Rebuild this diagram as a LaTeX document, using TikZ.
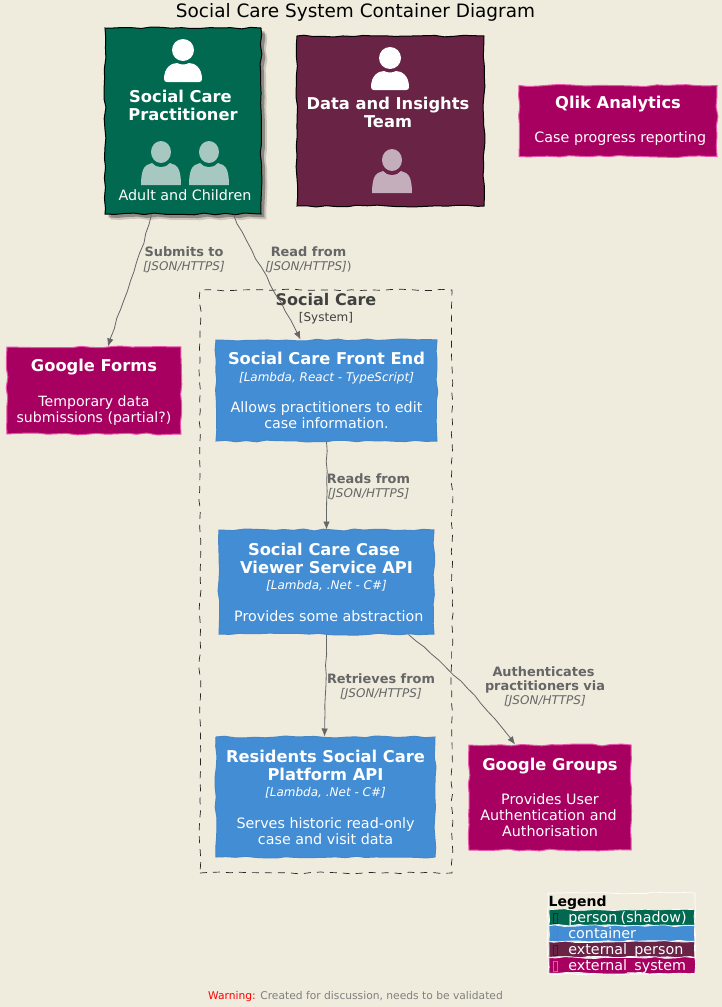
\documentclass[tikz,border=0pt]{standalone}
\usepackage{fontspec}
\setmainfont{DejaVu Sans}
\usetikzlibrary{decorations.pathmorphing,shadows,arrows.meta}

\definecolor{paper}{RGB}{239,235,221}
\definecolor{persongreen}{RGB}{0,105,80}
\definecolor{extperson}{RGB}{104,35,69}
\definecolor{extsystem}{RGB}{168,0,96}
\definecolor{extborder}{RGB}{232,84,170}
\definecolor{contblue}{RGB}{67,141,213}
\definecolor{contborder}{RGB}{70,135,200}
\definecolor{rellabel}{RGB}{102,102,102}
\definecolor{palegreen}{RGB}{166,200,192}
\definecolor{palemaroon}{RGB}{197,174,187}

\newcommand{\sz}[1]{\fontsize{#1}{#1}\selectfont}
\newcommand{\boxhead}{\sz{16.3}\bfseries}
\newcommand{\boxtext}{\sz{14.3}}
\newcommand{\relhead}{\sz{12.9}\bfseries}
\newcommand{\reltech}{\sz{12}\itshape}

\tikzset{
    exact/.style={execute at begin node={\baselineskip=0pt\lineskiplimit=-1000pt\relax}},
    wobble/.style={decorate, decoration={random steps, segment length=10pt, amplitude=1pt}},
    box/.style={wobble, draw, inner sep=0pt, align=center, text=white, exact},
    personbox/.style={box, fill=persongreen, draw=black, line width=1pt},
    teambox/.style={box, fill=extperson, draw=black, line width=1pt},
    extbox/.style={box, fill=extsystem, draw=extborder, line width=1pt},
    contbox/.style={box, fill=contblue, draw=contborder, line width=1pt},
    rel/.style={draw=rellabel, line width=0.8pt, -{Latex[length=8pt,width=6.5pt]},
        decorate, decoration={random steps, segment length=10pt, amplitude=0.7pt,
            post=lineto, post length=9pt}},
    rellab/.style={text=rellabel, align=center, inner sep=0pt, exact},
    boxlab/.style={text=white, align=center, inner sep=0pt, exact},
    legrow/.style={wobble, draw=white, line width=0.7pt, inner sep=0pt, text=white,
        anchor=west, minimum width=146pt, minimum height=15.6pt, text width=146pt, align=left,
        text height=12pt, text depth=3pt},
    tofu/.style={draw, line width=0.6pt, inner sep=0pt, minimum width=4pt, minimum height=10pt},
    bigperson/.pic={
        \path[pic actions] (0,0) circle[x radius=11, y radius=11];
        \path[pic actions] (-19,29) .. controls (-19,18) and (-12,13) .. (-6,13)
            .. controls (-2,15) and (2,15) .. (6,13)
            .. controls (12,13) and (19,18) .. (19,29)
            .. controls (19,31) and (18,32) .. (16,32) -- (-16,32)
            .. controls (-18,32) and (-19,31) .. (-19,29) -- cycle;
    },
    smallperson/.pic={
        \path[pic actions] (0,0) circle[x radius=10, y radius=11];
        \path[pic actions] (-20,33) .. controls (-20,22) and (-18,15) .. (-14,13) -- (-9,11)
            .. controls (-5,16.5) and (5,16.5) .. (9,11) -- (14,13)
            .. controls (18,15) and (20,22) .. (20,33) -- cycle;
    },
}

\begin{document}
\begin{tikzpicture}[x=1pt, y=-1pt]

% --- Page ---
\fill[paper] (0,0) rectangle (722,1007);
\useasboundingbox (0,0) rectangle (722,1007);

\node (title) at (355.5,12.5) {\sz{18.45}Social Care System Container Diagram};

% --- System boundary ---
\node[wobble, draw=black!85, dash pattern=on 7pt off 6pt, line width=0.7pt, minimum width=252pt,
    minimum height=583pt, inner sep=0pt] (boundary) at (326,581.5) {};
\node[text=black!75, align=center, inner sep=0pt, exact] (boundarylab) at (326,309)
    {{\sz{16}\bfseries Social Care}\\[16pt]{\sz{12}[System]}};

% --- People ---
\node[personbox, minimum width=156pt, minimum height=186pt,
    drop shadow={shadow xshift=5.5pt, shadow yshift=-5.5pt, fill=black, opacity=0.15},
    drop shadow={shadow xshift=3.5pt, shadow yshift=-3.5pt, fill=black, opacity=0.3}] (prac) at (183,121) {};
\pic[fill=white] at (183,50) {bigperson};
\node[boxlab, font=\boxhead] (praclab) at (183,105)
    {Social Care\kern5pt\\[18pt]Practitioner};
\pic[fill=palegreen] at (161,152) {smallperson};
\pic[fill=palegreen] at (209,152) {smallperson};
\node[boxlab] (praccap) at (185,195) {\boxtext Adult and Children};

\node[teambox, minimum width=187pt, minimum height=170pt] (team) at (390.5,121) {};
\pic[fill=white] at (390,58) {bigperson};
\node[boxlab, font=\boxhead] (teamlab) at (388,112.5)
    {Data and Insights\\[18pt]Team};
\pic[fill=palemaroon] at (392,160) {smallperson};

% --- External systems ---
\node[extbox, minimum width=198pt, minimum height=71pt] (qlik) at (618,121)
    {{\boxhead Qlik Analytics}\\[34pt]{\boxtext\ Case progress reporting}};
\node[extbox, minimum width=174pt, minimum height=87pt] (forms) at (94,390.5)
    {\rule{0pt}{15pt}{\boxhead Google Forms}\\[35pt]{\sz{14.1}Temporary data}\\[16pt]{\sz{14.1}submissions (partial?)}};
\node[extbox, minimum width=162pt, minimum height=105pt] (groups) at (550,797.5)
    {{\boxhead Google Groups}\\[34pt]{\boxtext Provides User}\\[16pt]{\boxtext Authentication and\kern3pt}\\[16pt]{\boxtext Authorisation}};

% --- Containers ---
\node[contbox, minimum width=221pt, minimum height=101pt] (frontend) at (326.5,390.5)
    {{\boxhead Social Care Front End}\\[16.5pt]{\reltech [Lambda, React - TypeScript]}\\[31pt]
     {\boxtext Allows practitioners to edit}\\[16pt]{\boxtext case information.}};
\node[contbox, minimum width=215pt, minimum height=104pt] (viewer) at (326.5,582)
    {{\boxhead Social Care Case\kern5pt}\\[18pt]{\boxhead Viewer Service API}\\[16pt]
     {\reltech [Lambda, .Net - C\#]}\\[32pt]{\boxtext\ Provides some abstraction}};
\node[contbox, minimum width=219pt, minimum height=120pt] (residents) at (325.5,797)
    {{\boxhead Residents Social Care}\\[18pt]{\boxhead Platform API}\\[16pt]
     {\reltech [Lambda, .Net - C\#]}\\[32pt]{\boxtext Serves historic read-only}\\[16pt]{\boxtext case and visit data}};

% --- Connectors ---
\draw[rel] ([xshift=47pt]prac.south west) .. controls +(-10,40) and +(12,-40) .. ([xshift=14pt]forms.north);
\draw[rel] ([xshift=129pt]prac.south west) .. controls +(14,32) and +(-20,-40) .. ([xshift=-26pt]frontend.north);
\draw[rel] (frontend.south) -- (viewer.north);
\draw[rel] (viewer.south) -- ([xshift=-1pt]residents.north);
\draw[rel] ([xshift=82pt]viewer.south) .. controls +(32,24) and +(-28,-38) .. ([xshift=-35pt]groups.north);

% --- Connector labels ---
\node[rellab] (submitslab) at (184,260)
    {{\relhead Submits to}\\[14pt]{\reltech [JSON/HTTPS]}};
\node[rellab] (readlab) at (308.5,260)
    {{\relhead Read from}\\[14pt]{\sz{12}{\itshape [JSON/HTTPS]})}};
\node[rellab] (readslab) at (368.5,487)
    {{\relhead Reads from}\\[14pt]{\reltech [JSON/HTTPS]}};
\node[rellab] (retrieveslab) at (381,687)
    {{\relhead Retrieves from}\\[14pt]{\reltech [JSON/HTTPS]}};
\node[rellab] (authlab) at (545,686.5)
    {{\relhead Authenticates\kern3pt}\\[14pt]{\relhead practitioners via}\\[14pt]{\reltech [JSON/HTTPS]}};

% --- Legend ---
\node[wobble, draw=white, line width=0.7pt, inner sep=0pt, minimum width=147pt, minimum height=81pt] (legend) at (621.5,933.5) {};
\node[anchor=west, inner sep=0pt, font=\sz{14}\bfseries] (legendlab) at (548.5,902.5) {Legend};
\node[legrow, fill=persongreen] (legperson) at (548.5,917.5) {\hspace*{19.5pt}\sz{14.3}person (shadow)};
\node[legrow, fill=contblue] (legcont) at (548.5,933.5) {\hspace*{19.5pt}\sz{14.3}container};
\node[legrow, fill=extperson] (legext) at (548.5,949.5) {\hspace*{19.5pt}\sz{14.3}external\_person};
\node[legrow, fill=extsystem] (legsys) at (548.5,965.5) {\hspace*{19.5pt}\sz{14.3}external\_system};
\node[tofu, draw=black!85] (tofua) at (555,918) {};
\node[tofu, draw=contborder] (tofub) at (555,934) {};
\node[tofu, draw=black!85] (tofuc) at (555,950) {};
\node[tofu, draw=extborder] (tofud) at (555,966) {};

% --- Footer ---
\node[inner sep=0pt] (warning) at (355.5,996.5)
    {\sz{10.7}\textcolor{red}{Warning:} \textcolor{black!50}{Created for discussion, needs to be validated}};

\end{tikzpicture}
\end{document}
